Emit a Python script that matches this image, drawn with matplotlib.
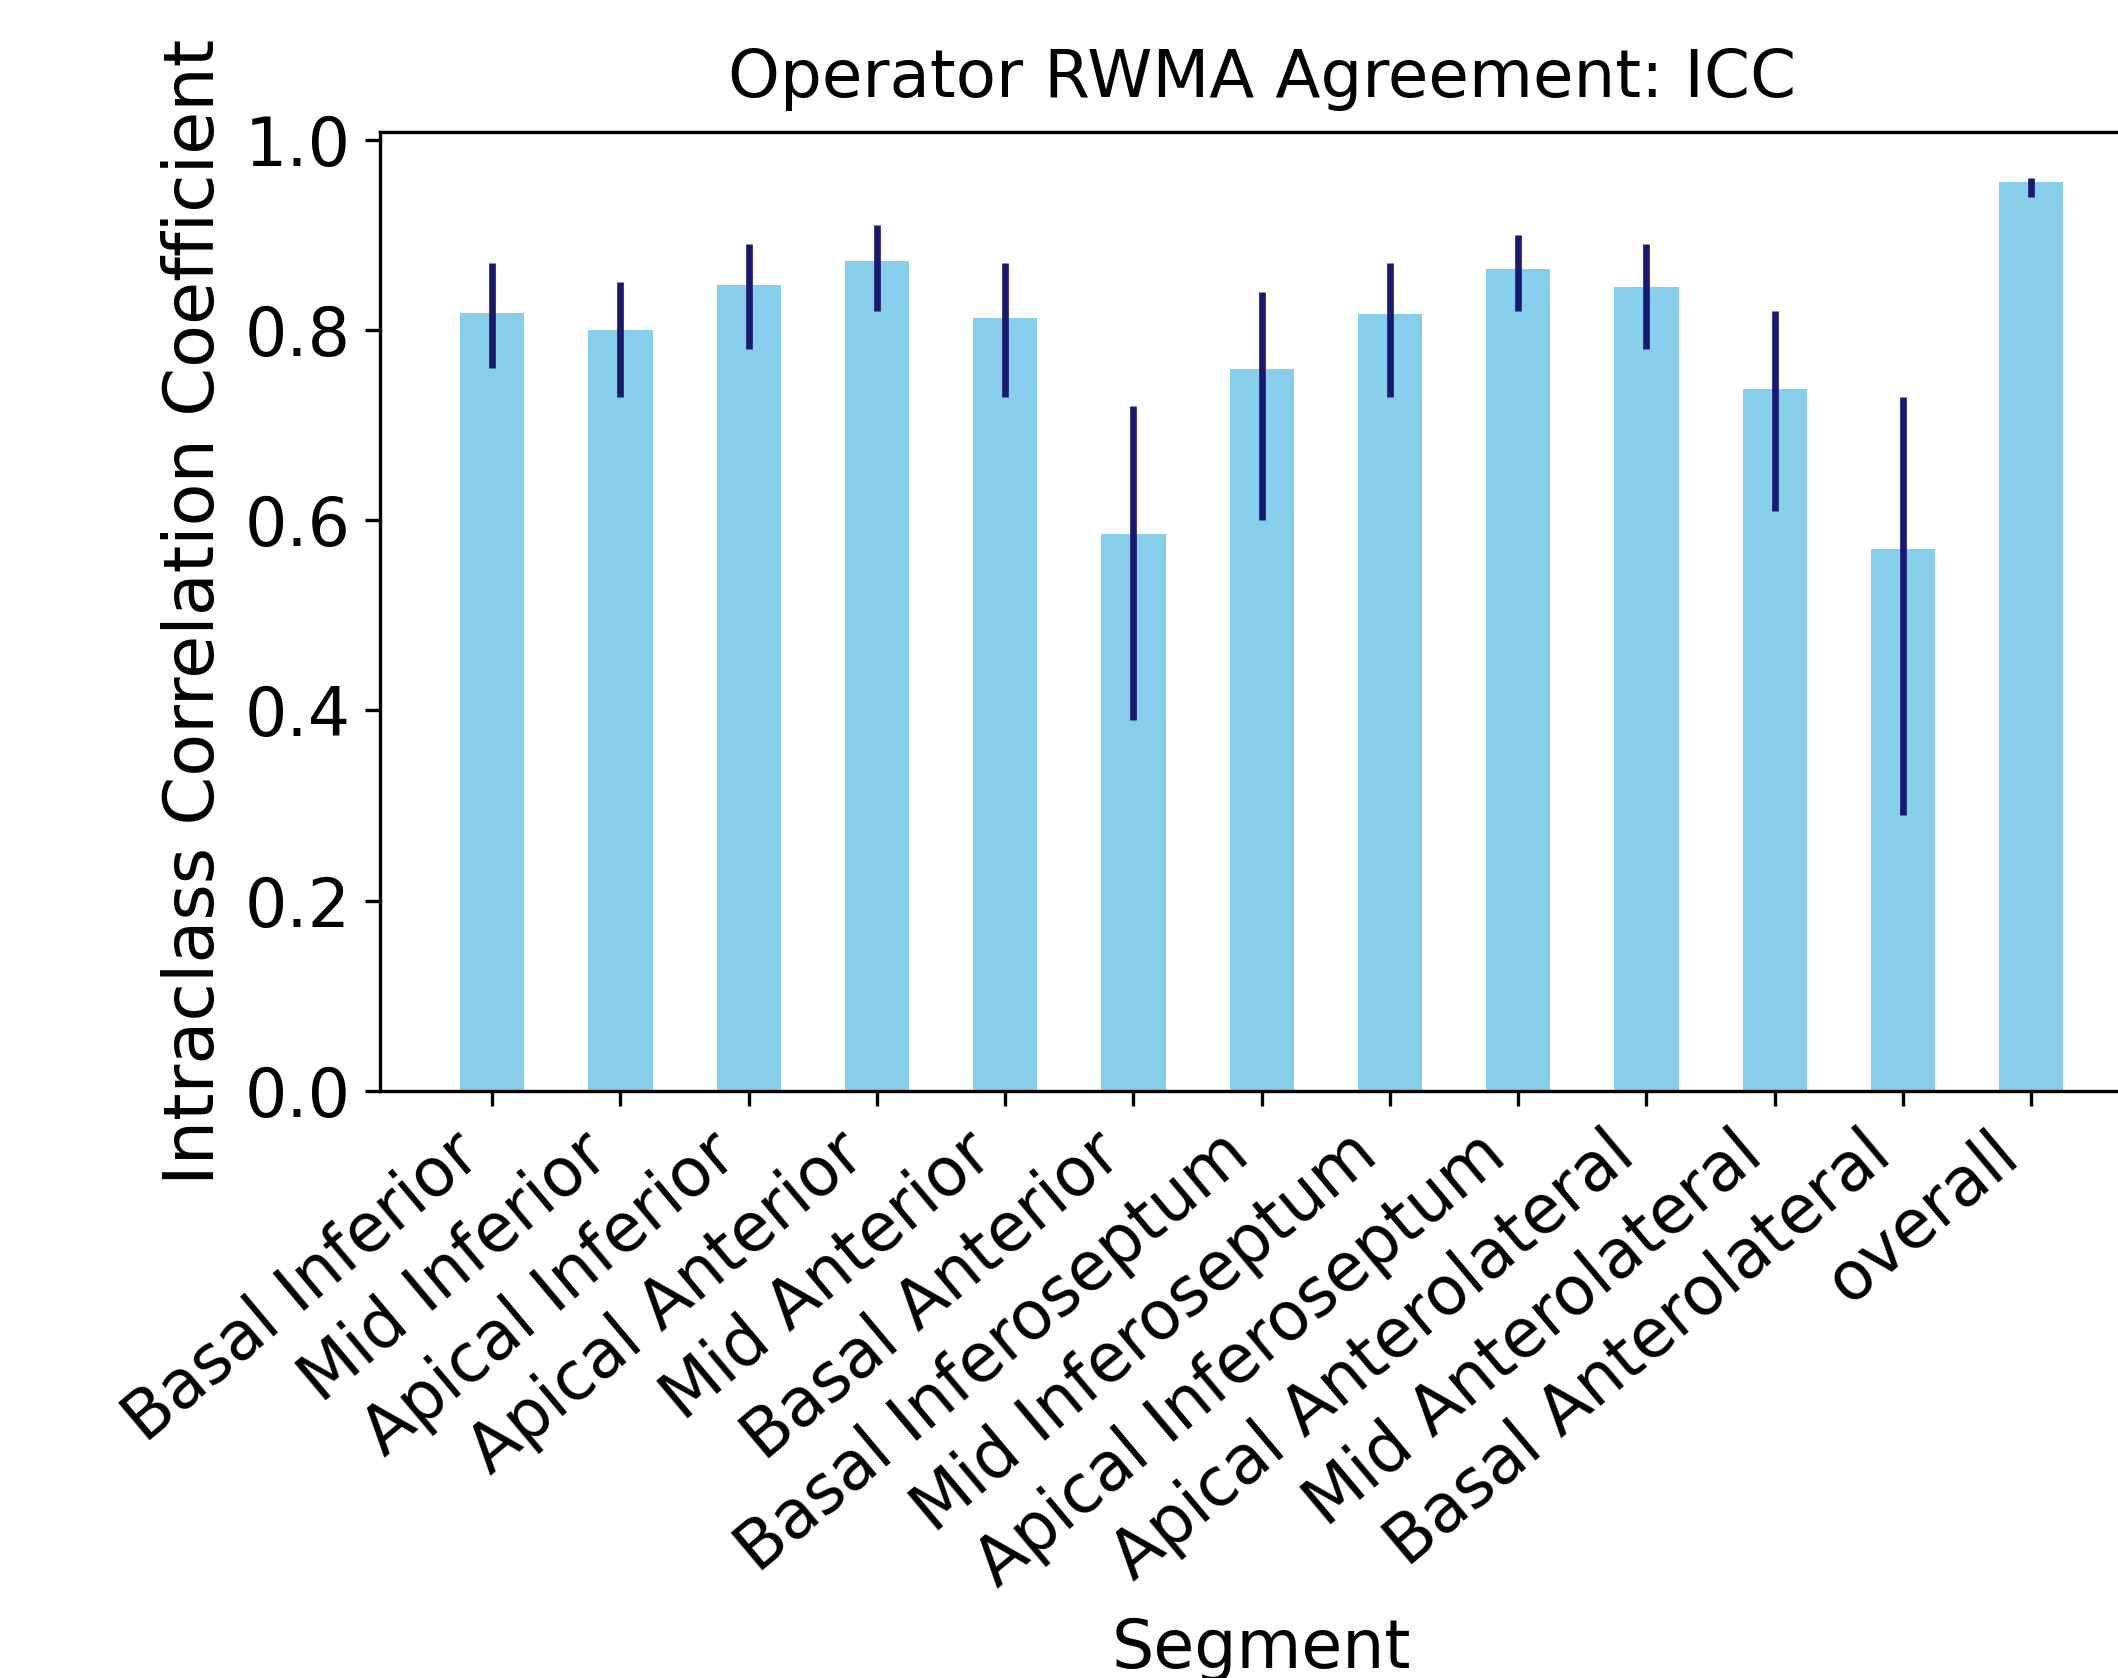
import matplotlib
matplotlib.use("Agg")
import matplotlib.pyplot as plt
import numpy as np

segments = ["Basal Inferior", "Mid Inferior", "Apical Inferior", "Apical Anterior",
            "Mid Anterior", "Basal Anterior", "Basal Inferoseptum", "Mid Inferoseptum",
            "Apical Inferoseptum", "Apical Anterolateral", "Mid Anterolateral",
            "Basal Anterolateral", "overall"]
icc = [0.818, 0.800, 0.847, 0.872, 0.813, 0.586, 0.759, 0.817, 0.864, 0.845, 0.738, 0.570, 0.955]
ci_low = [0.76, 0.73, 0.78, 0.82, 0.73, 0.39, 0.60, 0.73, 0.82, 0.78, 0.61, 0.29, 0.94]
ci_high = [0.87, 0.85, 0.89, 0.91, 0.87, 0.72, 0.84, 0.87, 0.90, 0.89, 0.82, 0.73, 0.96]

plt.rcParams['font.size'] = 16
fig = plt.figure(figsize=(2118/300, 1678/300), dpi=300)
ax = fig.add_axes([0.1794, 0.3498, 1.012 - 0.1794, 0.9213 - 0.3498])

x = np.arange(len(segments))
vals = np.array(icc)
yerr = np.array([vals - np.array(ci_low), np.array(ci_high) - vals])
ax.bar(x, vals, width=0.5, color='skyblue', yerr=yerr,
       error_kw=dict(ecolor='midnightblue', elinewidth=1.6, capsize=0))
ax.set_xticks(x)
ax.set_xticklabels(segments, rotation=40, ha='right')
ax.set_yticks([0.0, 0.2, 0.4, 0.6, 0.8, 1.0])
ax.set_ylabel("Intraclass Correlation Coefficient", fontsize=16.85)
ax.set_xlabel("Segment", fontsize=16)
ax.set_title("Operator RWMA Agreement: ICC", fontsize=15.8, pad=8.5)

fig.savefig("out.png", dpi=300)
